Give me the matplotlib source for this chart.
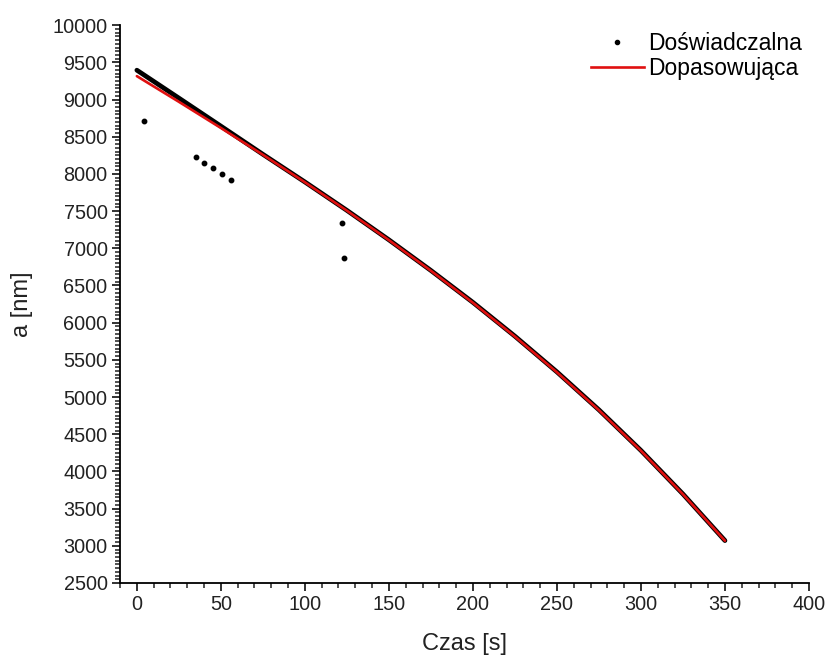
import matplotlib
matplotlib.use("Agg")
import matplotlib.pyplot as plt
from matplotlib.ticker import MultipleLocator
from matplotlib.lines import Line2D

plt.rcParams['font.family'] = ['Liberation Sans', 'DejaVu Sans']

# Experimental series (dense track) read at 25 s steps
t_exp = [0, 25, 50, 75, 100, 125, 150, 175, 200, 225, 250, 275, 300, 325, 350]
a_exp = [9395, 9020, 8643, 8264, 7892, 7510, 7114, 6702, 6273, 5818, 5338, 4828, 4282, 3696, 3070]

# Scattered experimental points away from the main track
t_out = [4.4, 35.1, 40.1, 45.6, 50.8, 56.1, 121.8, 123.0]
a_out = [8710, 8230, 8150, 8075, 7997, 7913, 7335, 6864]

# Fitted curve
t_fit = [0, 25, 50, 75, 100, 125, 150, 175, 200, 225, 250, 275, 300, 325, 350]
a_fit = [9315, 8970, 8618, 8258, 7888, 7506, 7110, 6698, 6268, 5813, 5333, 4823, 4278, 3693, 3068]

fig = plt.figure(figsize=(8.28, 6.63), dpi=100)
ax = fig.add_axes([0.145, 0.1207, 0.832, 0.8413])

ax.plot(t_exp, a_exp, color='black', lw=3.4, solid_capstyle='round',
        solid_joinstyle='round', zorder=2)
ax.plot(t_out, a_out, 'o', color='black', ms=3.2, zorder=3)
ax.plot(t_fit, a_fit, color='#e01010', lw=1.9, solid_capstyle='round',
        solid_joinstyle='round', zorder=4)

ax.set_xlim(-10, 400)
ax.set_ylim(2500, 10000)
ax.xaxis.set_major_locator(MultipleLocator(50))
ax.xaxis.set_minor_locator(MultipleLocator(10))
ax.yaxis.set_major_locator(MultipleLocator(500))
ax.yaxis.set_minor_locator(MultipleLocator(50))

for s in ['top', 'right']:
    ax.spines[s].set_visible(False)
for s in ['left', 'bottom']:
    ax.spines[s].set_linewidth(1.3)

ax.tick_params(which='major', direction='out', length=6, width=1.3,
               labelsize=14.3, colors='#222222', pad=3)
ax.tick_params(which='minor', direction='out', length=3.5, width=1.1, colors='#222222')

ax.set_xlabel('Czas [s]', fontsize=17, color='#222222', labelpad=13)
ax.set_ylabel('a [nm]', fontsize=17, color='#222222', labelpad=14)

handles = [
    Line2D([], [], marker='o', color='black', ms=3, linestyle='none'),
    Line2D([], [], color='#e01010', lw=1.9),
]
ax.legend(handles, ['Doświadczalna', 'Dopasowująca'], loc='upper right',
          frameon=False, fontsize=16.5, handlelength=2.3, handletextpad=0.2,
          labelspacing=0.1, bbox_to_anchor=(1.02, 1.025))

fig.savefig('out.png', dpi=100)
